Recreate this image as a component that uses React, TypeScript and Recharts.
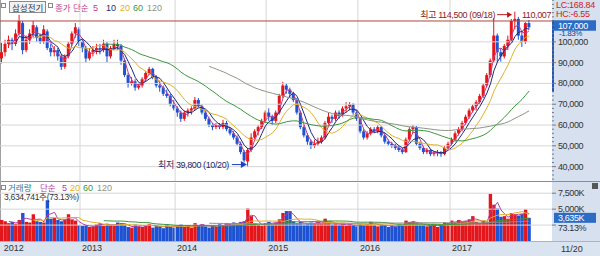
import React from 'react';
import { ComposedChart, Bar, Line, XAxis, YAxis, ReferenceLine, ReferenceDot, Cell } from 'recharts';

// 2-week candles, prices in thousands of won
const opens = [
  92, 95, 99, 101, 99, 104, 109, 96, 101, 104,
  107, 102, 100, 105, 97, 95, 96, 93, 88, 93,
  99, 104, 106, 100, 97, 92, 95, 96, 97, 96,
  99, 93, 97, 99, 98, 91, 84, 80, 81, 78,
  79, 82, 85, 87, 83, 79, 78, 75, 74, 70,
  68, 66, 63, 66, 67, 68, 72, 69, 66, 63,
  60, 59, 60, 59, 61, 58, 56, 54, 51, 47,
  42.5, 48, 54, 57, 59, 62, 66, 64, 62, 66,
  74, 79, 77, 75, 72, 66, 59, 55, 52, 50,
  51, 52, 54, 61, 64, 63, 66, 65, 68, 69,
  70, 66, 63, 57, 54, 56, 58, 57, 59, 55,
  52, 51, 50, 49, 48, 47, 53, 58, 59, 51,
  49, 47, 48, 46, 46.5, 47, 46, 49, 51, 53,
  56, 58, 61, 64, 67, 69, 71, 74, 79, 84,
  91, 103, 95, 93, 98, 101, 110, 111, 103, 100, 109,
];
const highs = [
  99.5, 101, 103, 102, 106, 113, 110, 103, 106, 110,
  108, 104, 108, 106, 99, 98, 97, 94, 94, 100,
  105, 109, 107, 101, 98, 97, 98, 99, 99, 101,
  100, 98, 101, 101, 99, 92, 85, 83, 82, 80,
  83, 86, 88, 87.5, 84, 81, 79, 77, 75, 72,
  69, 67, 67, 68, 69, 73.5, 73, 70, 67, 64,
  61, 61, 61, 62.5, 62, 59, 57, 55, 52, 48,
  49, 56, 58, 60, 63, 67, 68, 65, 67, 75,
  80.8, 80, 78, 76, 73, 67, 60, 56, 53, 53,
  54, 55, 62, 66, 65, 67, 67, 69, 71, 71,
  70.5, 67, 63.5, 58, 57, 59, 59, 60, 59.5, 56,
  53, 52, 51, 50, 49, 54, 59, 60, 59.5, 52,
  50, 49, 48.5, 47.5, 48, 47.5, 50, 52, 54, 57,
  59, 62, 65, 68, 70, 72, 75, 80, 85, 92,
  111.5, 104, 97, 99, 103, 111, 114.5, 112, 105, 109.5, 110.5,
];
const lows = [
  89.6, 93, 97, 96, 98, 103, 94, 95, 99, 102,
  100, 99, 99, 96, 93, 93, 91, 86.5, 87, 92,
  98, 102, 98, 95, 90, 91, 93, 94, 94, 95,
  90, 92, 96, 96, 89, 83, 78, 79, 76.5, 77,
  78, 81, 84, 82, 78, 76, 74, 73, 69, 67,
  64, 61.5, 62, 64, 65, 67, 68, 65, 62, 59,
  57.5, 58, 58, 58, 57, 55, 53, 50, 46, 42,
  39.8, 47, 53, 55, 58, 61, 62, 60, 61, 65,
  73, 75, 73, 71, 65, 58, 54, 50.5, 48.5, 49,
  50, 51, 53, 60, 61, 62, 63, 64, 66, 67,
  65, 62, 56, 53, 53, 55, 56, 56, 54, 51,
  50, 49, 48, 47, 46, 46.5, 52, 56, 50, 48,
  46, 46, 45, 45, 45, 44.7, 45.5, 48, 50, 52,
  55, 57, 60, 63, 66, 67, 70, 73, 78, 83,
  90, 90, 90.5, 92, 96, 100, 106, 101, 97.5, 99, 106,
];
const closes = [
  95, 99, 101, 99, 104, 110, 96, 101, 104, 108,
  102, 100, 106, 97, 95, 96, 93, 88, 93, 99,
  104, 107, 100, 97, 92, 95, 96, 97, 96, 99,
  93, 97, 99, 98, 91, 84, 80, 81, 78, 79,
  82, 85, 87, 83, 79, 78, 75, 74, 70, 68,
  66, 63, 66, 67, 68, 72, 69, 66, 63, 60,
  59, 60, 59, 61, 58, 56, 54, 51, 47, 43,
  48, 54, 57, 59, 62, 66, 64, 62, 66, 74,
  79, 77, 75, 72, 66, 59, 55, 52, 50, 51,
  52, 54, 61, 64, 63, 66, 65, 68, 69, 70,
  66, 63, 57, 54, 56, 58, 57, 59, 55, 52,
  51, 50, 49, 48, 47, 53, 58, 59, 51, 49,
  47, 48, 46, 46.5, 47, 46, 49, 51, 53, 56,
  58, 61, 64, 67, 69, 71, 74, 79, 84, 91,
  103, 95, 93, 98, 101, 110, 111, 103, 100, 109, 107,
];
// volume in thousands of shares
const volumes = [
  3300, 3100, 2800, 3000, 2700, 3300, 4400, 3000, 2900, 4200,
  3100, 3000, 2900, 6400, 3500, 3600, 3300, 3100, 3400, 4200,
  3400, 3200, 2500, 2400, 2500, 2200, 2300, 2600, 2800, 2400,
  2700, 2500, 2400, 2900, 2800, 2500, 2200, 2100, 2600, 2300,
  2200, 2500, 2700, 2100, 2400, 2300, 2000, 2500, 2200, 2100,
  2400, 2600, 2200, 2500, 2100, 2800, 2400, 2600, 2300, 2100,
  2500, 2200, 2700, 2400, 2800, 2600, 2900, 2700, 3000, 3100,
  5100, 3900, 2800, 2600, 2400, 2800, 3000, 2600, 2900, 3400,
  4400, 4700, 4700, 3100, 2800, 3000, 2600, 2700, 2900, 2800,
  3000, 2700, 3500, 2900, 2600, 2800, 2500, 2700, 2400, 2600,
  2500, 2300, 2700, 2400, 2600, 3000, 2500, 2300, 2600, 2400,
  2200, 2500, 2300, 2600, 2400, 3200, 3000, 3000, 2800, 2600,
  2500, 2300, 2400, 2600, 2200, 2500, 2900, 2800, 3200, 2900,
  3300, 3000, 3100, 3400, 3900, 3000, 2800, 3200, 2900, 7400,
  5700, 5100, 3800, 3900, 3500, 4400, 4200, 4000, 4300, 4970, 3635,
];

const yearLabels = ['2012', '2013', '2014', '2015', '2016', '2017'];
const yearStarts = [0, 22.25, 49.3, 75.2, 101.3, 127.5];
const priceTickLabels = [40, 50, 60, 70, 80, 90, 100];
const volumeTickLabels = [2500, 5000, 7500];
const markLine = 110.007;
const highDate = '09/18';
const lowDate = '10/20';
const lastDate = '11/20';

// 5/10/20/60/120 weeks on 2-week bars
const priceMaLabels = ['5', '10', '20', '60', '120'];
const priceMaPeriods = [3, 5, 10, 30, 60];
const volumeMaLabels = ['5', '20', '60', '120'];
const volumeMaPeriods = [3, 10, 30, 60];

const RED = '#e3161c';
const BLUE = '#1d52d2';
const GRID = '#d6d6d6';
const priceMaColors = ['#c23c8c', '#1e2a78', '#e0b02a', '#3a983a', '#8c9484'];
const volumeMaColors = ['#b040a4', '#e0b02a', '#3a983a', '#8c9484'];
const FONT = "'Liberation Sans', 'Noto Sans CJK KR', sans-serif";

const avg = (a: number[]) => a.reduce((s, v) => s + v, 0) / a.length;
const movingAverage = (src: number[], n: number) =>
  src.map((_, i) => (i < n - 1 ? null : avg(src.slice(i - n + 1, i + 1))));

const priceMa = priceMaPeriods.map((n) => movingAverage(closes, n));
const volumeMa = volumeMaPeriods.map((n) => movingAverage(volumes, n));

const rows = closes.map((c, i) => {
  const r: any = { i, o: opens[i], h: highs[i], l: lows[i], c, v: volumes[i], range: [lows[i], highs[i]] };
  priceMa.forEach((m, k) => (r['ma' + k] = m[i]));
  volumeMa.forEach((m, k) => (r['vma' + k] = m[i]));
  return r;
});

const last = closes.length - 1;
const hiIdx = highs.indexOf(Math.max(...highs));
const loIdx = lows.indexOf(Math.min(...lows));
const change = ((closes[last] - closes[last - 1]) / closes[last - 1]) * 100;
const won = (v: number) => Math.round(v * 1000).toLocaleString('en-US');
const minorTicks: number[] = [];
for (let t = 34; t <= 120; t += 2) minorTicks.push(t);

const Candle = (p: any) => {
  const { x, y, width, height, payload } = p;
  if (!payload || height == null) return null;
  const { o, h, l, c } = payload;
  const span = h - l || 1;
  const at = (v: number) => y + ((h - v) / span) * height;
  const color = c >= o ? RED : BLUE;
  const top = at(Math.max(o, c));
  const bot = at(Math.min(o, c));
  const cx = x + width / 2;
  return (
    <g>
      <line x1={cx} x2={cx} y1={y} y2={y + height} stroke={color} strokeWidth={1} />
      <rect x={x} y={top} width={width} height={Math.max(1, bot - top)} fill={color} />
    </g>
  );
};

const PriceTick = (p: any) => {
  const { x, y, payload } = p;
  const v = payload.value;
  const major = priceTickLabels.includes(v);
  return (
    <g>
      <line x1={x} x2={x + (major ? 4 : 2)} y1={y} y2={y} stroke="#6f7a8c" />
      {major && (
        <text x={x + 6} y={y + 3} fontSize={9} letterSpacing={-0.4} fill="#333" fontFamily={FONT}>
          {won(v)}
        </text>
      )}
    </g>
  );
};

const VolumeTick = (p: any) => {
  const { x, y, payload } = p;
  const v = payload.value;
  return (
    <g>
      <line x1={x} x2={x + 4} y1={y} y2={y} stroke="#6f7a8c" />
      {v > 2500 && (
        <text x={x + 6} y={y + 3} fontSize={9} letterSpacing={-0.4} fill="#333" fontFamily={FONT}>
          {v.toLocaleString('en-US')}K
        </text>
      )}
    </g>
  );
};

const YearTick = (p: any) => {
  const { x, y, payload } = p;
  const k = yearStarts.indexOf(payload.value);
  return (
    <text x={x + 2} y={y + 10} fontSize={9} fill="#333" fontFamily={FONT}>
      {yearLabels[k]}
    </text>
  );
};

const PriceBox = ({ viewBox }: any) => {
  const left = viewBox.x + viewBox.width + 2;
  const y = viewBox.y;
  return (
    <g fontFamily={FONT} letterSpacing={-0.4}>
      <rect x={left} y={y - 7} width={42} height={10.5} fill="#2c6cc4" />
      <text x={left + 4} y={y + 1.5} fontSize={9} fill="#fff">{won(closes[last])}</text>
      <text x={left + 5} y={y + 9} fontSize={8} fill="#1c3c8c">{change.toFixed(2)}%</text>
    </g>
  );
};

const VolumeBox = ({ viewBox }: any) => {
  const left = viewBox.x + viewBox.width + 2;
  const y = viewBox.y;
  return (
    <g fontFamily={FONT} fontSize={9} letterSpacing={-0.4}>
      <rect x={left} y={y - 5} width={42} height={10} fill="#2c6cc4" />
      <text x={left + 4} y={y + 3} fill="#fff">{volumes[last].toLocaleString('en-US')}K</text>
      <text x={left + 4} y={y + 13} fill="#333">73.13%</text>
    </g>
  );
};

const MarkLabel = ({ viewBox }: any) => (
  <text x={viewBox.x + viewBox.width - 1} y={viewBox.y - 3} textAnchor="end" fontSize={9} letterSpacing={-0.4} fill="#8b2222" fontFamily={FONT}>
    {won(markLine)}
  </text>
);

const HighMark = (p: any) => {
  const { cx, cy } = p;
  return (
    <g fontFamily={FONT}>
      <text x={cx - 20} y={cy + 6} textAnchor="end" fontSize={9} letterSpacing={-0.4} fill="#8b1c1c">
        최고 {won(highs[hiIdx])} ({highDate})
      </text>
      <line x1={cx - 18} x2={cx - 7} y1={cy + 3} y2={cy + 3} stroke="#c01818" />
      <polygon points={`${cx - 3},${cy + 3} ${cx - 8},${cy} ${cx - 8},${cy + 6}`} fill="#c01818" />
    </g>
  );
};

const LowMark = (p: any) => {
  const { cx, cy } = p;
  return (
    <g fontFamily={FONT}>
      <text x={cx - 19} y={cy + 0.5} textAnchor="end" fontSize={9} letterSpacing={-0.4} fill="#1e2a6e">
        최저 {won(lows[loIdx])} ({lowDate})
      </text>
      <line x1={cx - 16} x2={cx - 6} y1={cy - 2.5} y2={cy - 2.5} stroke="#1d40c8" />
      <polygon points={`${cx - 1},${cy - 2.5} ${cx - 7},${cy - 6} ${cx - 7},${cy + 1}`} fill="#1d40c8" />
    </g>
  );
};

const legendX = [93, 106, 120, 133, 147];
const vLegendX = [62, 70, 83, 97];

export default function App() {
  return (
    <div style={{ position: 'absolute', left: 0, top: 0, width: 600, height: 256, background: '#fff', overflow: 'hidden', fontFamily: FONT }}>
      <div style={{ position: 'absolute', left: 552, top: 0, width: 48, height: 241, background: '#d6e0ef' }} />
      <div style={{ position: 'absolute', left: 0, top: 241, width: 600, height: 15, background: '#dae3f0', borderTop: '1px solid #a9b3c4', boxSizing: 'border-box' }} />
      <div style={{ position: 'absolute', left: 0, top: 181, width: 600, height: 1, background: '#8c8c8c' }} />
      <div style={{ position: 'absolute', left: 0, top: 0, width: 1, height: 241, background: '#a0a0a0' }} />
      <div style={{ position: 'absolute', left: 552, top: 20, width: 2, height: 72, background: '#2a56b0' }} />

      <div style={{ position: 'absolute', left: 0, top: 0 }}>
        <ComposedChart width={600} height={181} data={rows} margin={{ top: 0, right: 0, bottom: 0, left: 0 }}>
          <XAxis type="number" dataKey="i" domain={[-0.5, 156.5]} hide />
          <YAxis orientation="right" width={48} domain={[33.1, 120.1]} ticks={minorTicks} interval={0} tick={<PriceTick />} tickSize={0} tickMargin={0} axisLine={false} tickLine={false} allowDataOverflow />
          {priceTickLabels.map((v) => (
            <ReferenceLine key={'g' + v} y={v} stroke={GRID} />
          ))}
          {yearStarts.slice(1).map((x) => (
            <ReferenceLine key={'x' + x} x={x} stroke={GRID} />
          ))}
          <ReferenceLine y={markLine} stroke="#b0463c" label={(p: any) => <MarkLabel viewBox={p.viewBox} />} />
          {priceMa.map((_, k) => (
            <Line key={k} dataKey={'ma' + k} stroke={priceMaColors[k]} strokeWidth={1} dot={false} activeDot={false} isAnimationActive={false} />
          ))}
          <Bar dataKey="range" barSize={3} shape={(p: any) => <Candle {...p} />} isAnimationActive={false} />
          <ReferenceLine y={closes[last]} stroke="none" label={(p: any) => <PriceBox viewBox={p.viewBox} />} />
          <ReferenceDot x={hiIdx} y={highs[hiIdx]} r={0} shape={(p: any) => <HighMark {...p} />} />
          <ReferenceDot x={loIdx} y={lows[loIdx]} r={0} shape={(p: any) => <LowMark {...p} />} />
        </ComposedChart>
      </div>

      <div style={{ position: 'absolute', left: 0, top: 182 }}>
        <ComposedChart width={600} height={74} data={rows} margin={{ top: 1, right: 0, bottom: 0, left: 0 }}>
          <XAxis type="number" dataKey="i" domain={[-0.5, 156.5]} ticks={yearStarts} interval={0} tick={<YearTick />} tickSize={0} tickMargin={0} axisLine={false} tickLine={false} height={15} />
          <YAxis orientation="right" width={48} domain={[0, 9100]} ticks={volumeTickLabels} interval={0} tick={<VolumeTick />} tickSize={0} tickMargin={0} axisLine={false} tickLine={false} />
          {volumeTickLabels.map((v) => (
            <ReferenceLine key={'g' + v} y={v} stroke={GRID} />
          ))}
          {yearStarts.slice(1).map((x) => (
            <ReferenceLine key={'x' + x} x={x} stroke={GRID} />
          ))}
          <Bar dataKey="v" barSize={3.4} isAnimationActive={false}>
            {rows.map((r) => (
              <Cell key={r.i} fill={r.c >= r.o ? RED : BLUE} />
            ))}
          </Bar>
          {volumeMa.map((_, k) => (
            <Line key={k} dataKey={'vma' + k} stroke={volumeMaColors[k]} strokeWidth={1} dot={false} activeDot={false} isAnimationActive={false} />
          ))}
          <ReferenceLine y={volumes[last]} stroke="none" label={(p: any) => <VolumeBox viewBox={p.viewBox} />} />
        </ComposedChart>
      </div>

      <svg width={600} height={256} style={{ position: 'absolute', left: 0, top: 0, pointerEvents: 'none' }} fontFamily={FONT}>
        <rect x={1.5} y={3.5} width={4} height={4} fill="#fff" stroke="#888" />
        <rect x={9.5} y={1.5} width={36} height={11} fill="#f2f2f2" stroke="#8a8a8a" />
        <text x={12} y={10.5} fontSize={8.5} fill="#333">삼성전기</text>
        <rect x={48.5} y={3.5} width={4} height={4} fill="#fff" stroke="#888" />
        <text x={55} y={10.5} fontSize={8.5} fill={priceMaColors[0]}>종가 단순</text>
        {priceMaLabels.map((t, k) => (
          <text key={t} x={legendX[k]} y={10.5} fontSize={9} fill={priceMaColors[k]}>{t}</text>
        ))}
        <text x={556} y={8} fontSize={9} letterSpacing={-0.3} fill="#d42020">LC:168.84</text>
        <text x={556} y={17} fontSize={9} letterSpacing={-0.3} fill="#d42020">HC:-6.55</text>

        <rect x={1.5} y={185.5} width={4} height={4} fill="#fff" stroke="#888" />
        <text x={8} y={190.5} fontSize={8.5} fill="#2b7c95">거래량</text>
        <text x={40} y={190.5} fontSize={8.5} fill={volumeMaColors[0]}>단순</text>
        {volumeMaLabels.map((t, k) => (
          <text key={t} x={vLegendX[k]} y={190.5} fontSize={9} fill={volumeMaColors[k]}>{t}</text>
        ))}
        <text x={4} y={200} fontSize={8.5} letterSpacing={-0.3} fill="#333">3,634,741주(73.13%)</text>
        <rect x={592} y={183} width={6} height={6} fill="#555" />
        <text x={561} y={252} fontSize={9} fill="#333">{lastDate}</text>
      </svg>
    </div>
  );
}
